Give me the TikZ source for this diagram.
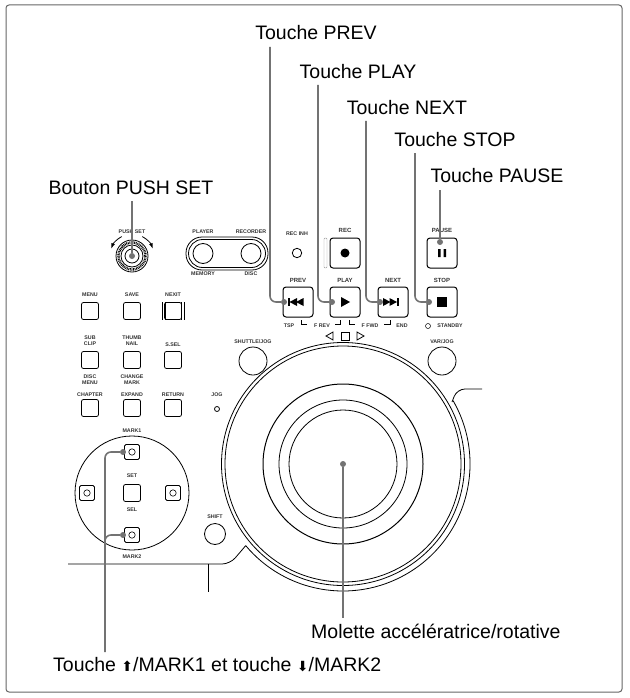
\documentclass[tikz,border=0pt]{standalone}
\usepackage{fontspec}
\usetikzlibrary{calc}
\setmainfont{Liberation Sans}
\newfontfamily\dvs{DejaVu Sans}
\begin{document}
\begin{tikzpicture}[x=1pt,y=-1pt,
 lbl/.style={font=\fontsize{19.5}{22}\selectfont, inner sep=0},
 tiny/.style={font=\fontsize{5.3}{5.8}\selectfont\bfseries, inner sep=0, align=center, text=black!80},
 btn/.style={draw, rounded corners=2, minimum size=17, inner sep=0, line width=0.8},
 bbtn/.style={draw, rounded corners=3, minimum size=30, inner sep=0, line width=1},
 sbtn/.style={draw, rounded corners=1.5, minimum size=15, inner sep=0, line width=0.8},
 lead/.style={draw=black!55, line width=1.6, rounded corners=6},
 dot/.style={circle, fill=black!55, inner sep=0, minimum size=6},
 pl/.style={line width=0.8}]
\useasboundingbox (0,0) rectangle (629,698);
\draw[black!60, line width=1, rounded corners=3] (6,5) rectangle (622,692);

% labels
\node[lbl] (tprev) at (316,33) {Touche PREV};
\node[lbl] (tplay) at (358,72) {Touche PLAY};
\node[lbl] (tnext) at (407,108) {Touche NEXT};
\node[lbl] (tstop) at (455,140) {Touche STOP};
\node[lbl] (tpause) at (497,176) {Touche PAUSE};
\node[lbl] (tpush) at (131,188) {Bouton PUSH SET};
\node[lbl, anchor=west] (tmol) at (311,631) {Molette accélératrice/rotative};
\node[lbl, anchor=west] (tmark) at (53,665) {Touche {\dvs\fontsize{14}{16}\selectfont ⬆}/MARK1 et touche {\dvs\fontsize{14}{16}\selectfont ⬇}/MARK2};

% knob
\node[tiny] (lpush) at (132,232) {PUSH SET};
\coordinate (knob) at (132,256);
\draw[pl] (knob) circle (16);
\draw[line width=2.5, dash pattern=on 0.8 off 0.8] (knob) circle (13.5);
\draw[pl] (knob) circle (11);
\draw[pl] (knob) circle (7);
\draw[pl,-latex] (knob)++(-118:22) arc (-118:-160:22);
\draw[pl,-latex] (knob)++(-62:22) arc (-62:-20:22);

% player/recorder
\draw[pl, rounded corners=16] (186,237) rectangle (268,270);
\draw[pl, rounded corners=14] (188.5,239.5) rectangle (265.5,267.5);
\node[draw, circle, minimum size=20, pl] (player) at (203,253.5) {};
\node[draw, circle, minimum size=20, pl] (recorder) at (251,253.5) {};
\node[tiny] at (203,232) {PLAYER};
\node[tiny] at (251,232) {RECORDER};
\node[tiny] at (203,274) {MEMORY};
\node[tiny] at (251,274) {DISC};

% rec inh
\node[tiny] at (297,234) {REC INH};
\node[draw, circle, minimum size=7, pl] (recinh) at (297,253) {};

% big buttons
\node[bbtn] (rec) at (345,253) {};
\fill (rec) circle (4.5);
\draw[black!40, rounded corners=1] (324,238) rectangle (327,268);
\node[tiny, font=\fontsize{6}{6}\selectfont\bfseries] at (345,230) {REC};
\node[bbtn] (pause) at (442,253) {};
\fill (438,249) rectangle (440.5,257) (443.5,249) rectangle (446,257);
\node[tiny, font=\fontsize{6}{6}\selectfont\bfseries] at (442,230) {PAUSE};
\node[bbtn] (prev) at (298,302) {};
\fill (288,298) rectangle (289.5,306);
\fill (289.5,302) -- (297,298) -- (297,306) -- cycle;
\fill (296,302) -- (303.5,298) -- (303.5,306) -- cycle;
\node[bbtn] (play) at (345,302) {};
\fill (341,297) -- (350,302) -- (341,307) -- cycle;
\node[bbtn] (next) at (393,302) {};
\fill (383,298) -- (390.5,302) -- (383,306) -- cycle;
\fill (389.5,298) -- (397,302) -- (389.5,306) -- cycle;
\fill (397,298) rectangle (398.5,306);
\node[bbtn] (stop) at (442,302) {};
\fill (437,297) rectangle (447,307);
\node[tiny, font=\fontsize{6}{6}\selectfont\bfseries] at (298,280) {PREV};
\node[tiny, font=\fontsize{6}{6}\selectfont\bfseries] at (345,280) {PLAY};
\node[tiny, font=\fontsize{6}{6}\selectfont\bfseries] at (393,280) {NEXT};
\node[tiny, font=\fontsize{6}{6}\selectfont\bfseries] at (442,280) {STOP};
\node[tiny] at (289,326) {TSP};
\node[tiny] at (322,326) {F REV};
\node[tiny] at (370,326) {F FWD};
\node[tiny] at (402,326) {END};
\draw[line width=0.5] (301,320) -- (301,324) -- (307,324) (335,324) -- (340,324) -- (340,320)
 (349,320) -- (349,324) -- (355,324) (384,324) -- (390,324) -- (390,320);
\node[tiny] at (450,326) {STANDBY};
\draw[line width=0.5] (428,326) circle (2.5);
\draw[pl] (333,332) -- (333,340) -- (326,336) -- cycle;
\draw[pl] (341,332) rectangle (349,340);
\draw[pl] (357,332) -- (357,340) -- (364,336) -- cycle;

% small buttons grid
\node[btn] (menu) at (90,311) {};
\node[btn] (save) at (132,311) {};
\node[btn] (nexit) at (173,311) {};
\draw[pl] (162,302) -- (162,320) (165,302) -- (165,320) (181,302) -- (181,320) (184,302) -- (184,320);
\node[tiny] at (90,295) {MENU};
\node[tiny] at (132,295) {SAVE};
\node[tiny] at (173,295) {NEXIT};
\node[btn] (subclip) at (90,360) {};
\node[btn] (thumb) at (132,360) {};
\node[btn] (ssel) at (173,360) {};
\node[tiny] at (90,341) {SUB\\CLIP};
\node[tiny] at (132,341) {THUMB\\NAIL};
\node[tiny] at (173,345) {S.SEL};
\node[btn] (chapter) at (90,408) {};
\node[btn] (expand) at (132,408) {};
\node[btn] (return) at (173,408) {};
\node[tiny] at (90,380) {DISC\\MENU};
\node[tiny] at (132,380) {CHANGE\\MARK};
\node[tiny] at (90,395) {CHAPTER};
\node[tiny] at (132,395) {EXPAND};
\node[tiny] at (173,395) {RETURN};
\node[tiny] at (217,395) {JOG};
\draw[pl] (217,409) circle (2.5);

% shuttle/var
\node[tiny] at (253,342) {SHUTTLE/JOG};
\node[draw, circle, minimum size=28, pl] (shuttle) at (253,361) {};
\node[tiny] at (442,342) {VAR/JOG};
\node[draw, circle, minimum size=28, pl] (var) at (442,361) {};

% cross
\draw[pl] (132,493) circle (57);
\node[tiny] at (132,431) {MARK1};
\node[tiny] at (132,557) {MARK2};
\node[tiny] at (132,476) {SET};
\node[tiny] at (132,510) {SEL};
\node[sbtn] (up) at (132,452) {};
\node[sbtn] (down) at (132,535) {};
\node[sbtn] (left) at (87,493) {};
\node[sbtn] (right) at (173,493) {};
\node[btn] (set) at (132,493) {};
\foreach \n in {up,down,left,right}{\draw[line width=0.6] (\n) circle (3.2);}
\node[tiny] at (215,517) {SHIFT};
\node[draw, circle, minimum size=21, pl] (shift) at (215,534) {};

% jog
\coordinate (jog) at (343,464);
\draw[pl] (jog) circle (118);
\draw[pl] (jog) circle (121.5);
\draw[line width=1] (jog) circle (80);
\draw[pl] (jog) circle (64);
\draw[pl] (jog) circle (54);
\draw[pl, rounded corners=8] (482,389) -- (457,389) -- (452,402);
\draw[pl] (jog) ++(-30:127) arc (-30:140:127);
\draw[pl, rounded corners=8] (68,564) -- (230,564) -- ($(jog)+(140:127)$);
\draw[pl] (208,564) -- (208,592);

% leaders
\node[dot] (dprev) at (284,302) {};
\node[dot] (dplay) at (332,302) {};
\node[dot] (dnext) at (380,302) {};
\node[dot] (dstop) at (429,302) {};
\node[dot] (dpause) at (440,242) {};
\node[dot] (dpush) at (132,256) {};
\node[dot] (dup) at (123,452) {};
\node[dot] (ddown) at (123,535) {};
\node[dot] (djog) at (343,464) {};
\draw[lead] (270,47) |- (dprev);
\draw[lead] (318,85) |- (dplay);
\draw[lead] (366,121) |- (dnext);
\draw[lead] (415,153) |- (dstop);
\draw[lead] (440,190) -- (dpause);
\draw[lead] (132,201) -- (dpush);
\draw[lead] (105,652) |- (dup);
\draw[lead] (105,545) |- (ddown);
\draw[lead] (djog) -- (343,618);
\end{tikzpicture}
\end{document}
